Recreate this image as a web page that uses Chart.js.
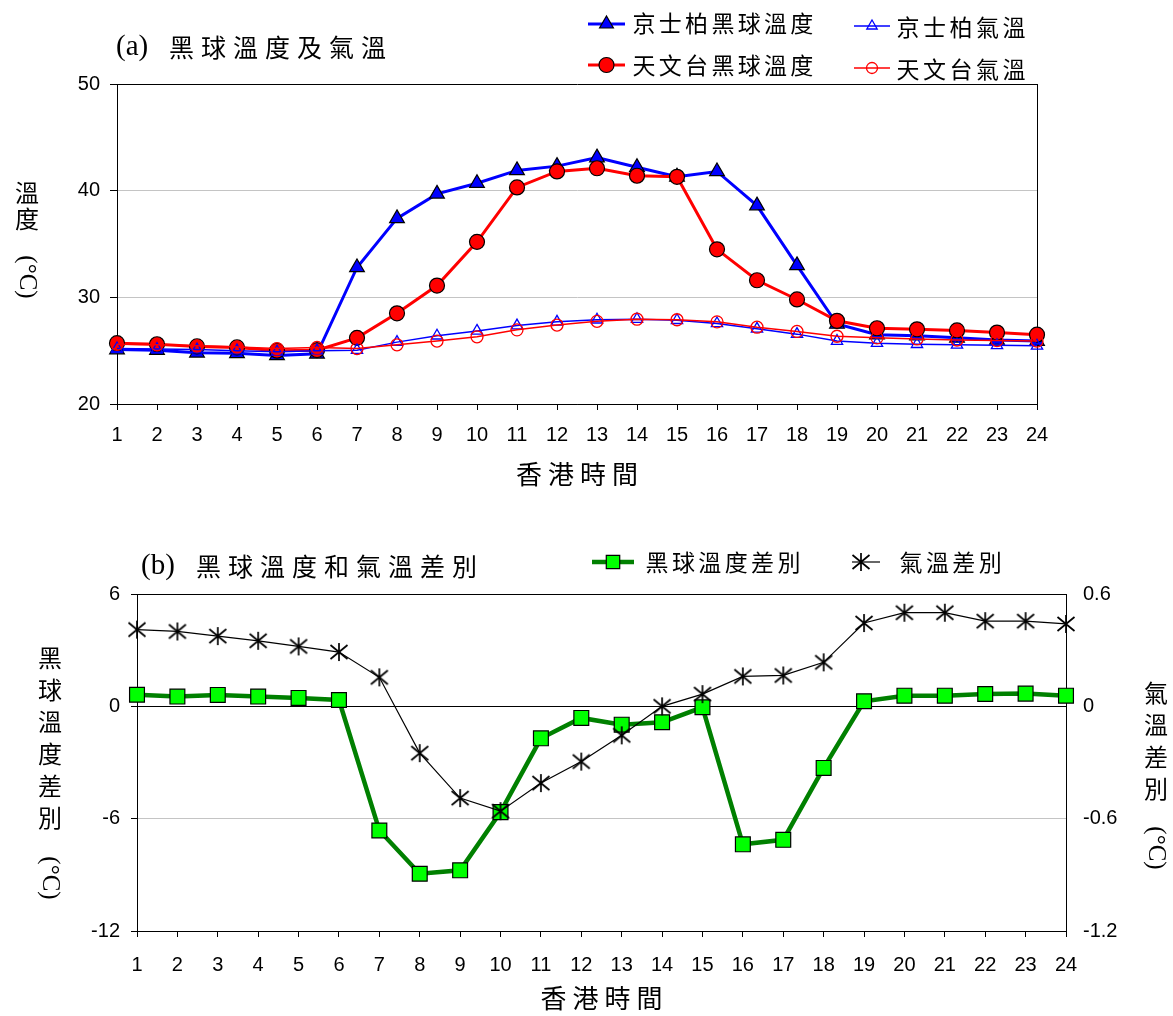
<!DOCTYPE html>
<html lang="zh-Hant">
<head>
<meta charset="utf-8">
<title>黑球溫度及氣溫</title>
<script src="https://cdn.jsdelivr.net/npm/chart.js@4.4.1/dist/chart.umd.min.js"></script>
<style>
  body { margin: 0; background: #fff; }
  canvas { position: absolute; left: 0; }
  #chartA { top: 0; }
  #chartB { top: 500px; }
</style>
</head>
<body>
<canvas id="chartA" width="1173" height="500"></canvas>
<canvas id="chartB" width="1173" height="516"></canvas>
<script>
/* global Chart */

// hourly data
const hours = ['1', '2', '3', '4', '5', '6', '7', '8', '9', '10', '11', '12',
  '13', '14', '15', '16', '17', '18', '19', '20', '21', '22', '23', '24'];

const kpGlobe = [25.1, 25.05, 24.8, 24.75, 24.55, 24.7, 32.8, 37.4, 39.7, 40.7, 41.9, 42.3,
  43.1, 42.2, 41.3, 41.8, 38.6, 33.0, 27.5, 26.5, 26.4, 26.2, 26.0, 25.9];
const obsGlobe = [25.7, 25.6, 25.4, 25.3, 25.0, 25.05, 26.2, 28.5, 31.1, 35.2, 40.3, 41.8,
  42.1, 41.4, 41.3, 34.5, 31.6, 29.8, 27.8, 27.1, 27.0, 26.9, 26.7, 26.5];
const kpAir = [25.2, 25.15, 25.1, 25.0, 24.9, 25.0, 25.05, 25.8, 26.4, 26.85, 27.35, 27.7,
  27.9, 27.95, 27.85, 27.55, 27.05, 26.55, 25.9, 25.7, 25.6, 25.55, 25.5, 25.45];
const obsAir = [25.6, 25.55, 25.45, 25.35, 25.2, 25.3, 25.2, 25.55, 25.9, 26.3, 26.95, 27.4,
  27.75, 27.95, 27.9, 27.7, 27.2, 26.8, 26.35, 26.2, 26.1, 26.0, 25.95, 25.9];

const globeDiff = [0.62, 0.52, 0.61, 0.52, 0.45, 0.34, -6.63, -8.94, -8.76, -5.65, -1.71, -0.62,
  -0.98, -0.85, -0.05, -7.37, -7.13, -3.29, 0.27, 0.57, 0.57, 0.66, 0.68, 0.57];
const airDiff = [0.41, 0.40, 0.375, 0.35, 0.32, 0.29, 0.155, -0.25, -0.49, -0.56, -0.41, -0.295,
  -0.155, 0.0, 0.065, 0.16, 0.165, 0.235, 0.445, 0.5, 0.5, 0.455, 0.455, 0.44];

const tempTicks = [20, 30, 40, 50];
const globeDiffTicks = [-12, -6, 0, 6];
const airDiffTicks = [-1.2, -0.6, 0, 0.6];

const CJK = '"Noto Sans CJK TC", "Noto Sans CJK SC", sans-serif';
const SERIF = '"Liberation Serif", "DejaVu Serif", serif';
const SANS = '"Liberation Sans", Arial, sans-serif';

Chart.defaults.font.family = SANS;
Chart.defaults.font.size = 20;
Chart.defaults.color = '#000';

// six-armed asterisk marker like the original
function makeAsterisk() {
  const c = document.createElement('canvas');
  c.width = 20; c.height = 20;
  const g = c.getContext('2d');
  g.strokeStyle = '#000';
  g.lineWidth = 1.7;
  g.beginPath();
  g.moveTo(10, 1); g.lineTo(10, 19);
  g.moveTo(1.5, 3); g.lineTo(18.5, 17);
  g.moveTo(18.5, 3); g.lineTo(1.5, 17);
  g.stroke();
  return c;
}
const asterisk = makeAsterisk();

function charsAcross(ctx, text, x, y, step) {
  [...text].forEach((ch, i) => ctx.fillText(ch, x + i * step, y));
}
function charsDown(ctx, text, x, y, step) {
  [...text].forEach((ch, i) => ctx.fillText(ch, x, y + i * step));
}
function rotated(ctx, text, x, y) {
  ctx.save();
  ctx.translate(x, y);
  ctx.rotate(Math.PI / 2);
  ctx.fillText(text, 0, 0);
  ctx.restore();
}

// titles, stacked axis titles and the legend
const decor = {
  id: 'decor',
  afterDraw(chart, args, opts) {
    const ctx = chart.ctx;
    const area = chart.chartArea;
    ctx.save();
    ctx.fillStyle = '#000';
    ctx.textBaseline = 'middle';

    // panel title
    const t = opts.title;
    ctx.textAlign = 'left';
    ctx.font = '29px ' + SERIF;
    ctx.fillText(t.prefix, t.px, t.y);
    ctx.textAlign = 'center';
    ctx.font = '25px ' + CJK;
    charsAcross(ctx, t.text, t.cx, t.y, 32);

    // y titles
    opts.yTitles.forEach(yt => {
      ctx.font = '24px ' + CJK;
      charsDown(ctx, yt.text, yt.x, yt.y, yt.step);
      ctx.font = '25px ' + SERIF;
      rotated(ctx, '(°C)', yt.x, yt.unitY);
    });

    // x title, centred on the plot
    ctx.font = '26px ' + CJK;
    const xt = opts.xTitle;
    const mid = (area.left + area.right) / 2;
    charsAcross(ctx, xt.text, mid - 1.5 * 32, xt.y, 32);

    // legend
    opts.legend.forEach(item => {
      const ds = chart.data.datasets[item.ds];
      ctx.strokeStyle = ds.borderColor;
      ctx.lineWidth = ds.borderWidth;
      ctx.beginPath();
      ctx.moveTo(item.x1, item.y);
      ctx.lineTo(item.x2, item.y);
      ctx.stroke();
      ctx.fillStyle = ds.pointBackgroundColor;
      ctx.strokeStyle = ds.pointBorderColor;
      ctx.lineWidth = ds.pointBorderWidth;
      Chart.helpers.drawPoint(ctx, {
        pointStyle: ds.pointStyle,
        radius: item.r,
        borderWidth: ds.pointBorderWidth,
        rotation: 0
      }, item.mx !== undefined ? item.mx : (item.x1 + item.x2) / 2, item.y);
      ctx.fillStyle = '#000';
      ctx.font = '23px ' + CJK;
      charsAcross(ctx, ds.label, item.tx + 11, item.ty, item.step);
    });
    ctx.restore();
  }
};

function fixTicks(list) {
  return scale => { scale.ticks = list.map(value => ({ value })); };
}

// (a) globe temperature and air temperature
new Chart(document.getElementById('chartA'), {
  type: 'line',
  data: {
    labels: hours,
    datasets: [{
      label: '京士柏黑球溫度',
      data: kpGlobe,
      borderColor: '#0000ff',
      borderWidth: 3,
      pointStyle: 'triangle',
      pointRadius: 8.5,
      pointBackgroundColor: '#0000ff',
      pointBorderColor: '#000',
      pointBorderWidth: 1.2,
      order: 4
    }, {
      label: '天文台黑球溫度',
      data: obsGlobe,
      borderColor: '#ff0000',
      borderWidth: 3,
      pointStyle: 'circle',
      pointRadius: 7.5,
      pointBackgroundColor: '#ff0000',
      pointBorderColor: '#000',
      pointBorderWidth: 1.2,
      order: 3
    }, {
      label: '京士柏氣溫',
      data: kpAir,
      borderColor: '#0000ff',
      borderWidth: 1.5,
      pointStyle: 'triangle',
      pointRadius: 6.5,
      pointBackgroundColor: 'rgba(0,0,0,0)',
      pointBorderColor: '#0000ff',
      pointBorderWidth: 1.3,
      order: 2
    }, {
      label: '天文台氣溫',
      data: obsAir,
      borderColor: '#ff0000',
      borderWidth: 1.5,
      pointStyle: 'circle',
      pointRadius: 6,
      pointBackgroundColor: 'rgba(0,0,0,0)',
      pointBorderColor: '#ff0000',
      pointBorderWidth: 1.3,
      order: 1
    }]
  },
  options: {
    responsive: false,
    animation: false,
    events: [],
    clip: false,
    layout: { padding: { left: 57, right: 136, top: 84, bottom: 16 } },
    elements: { line: { tension: 0 } },
    plugins: {
      legend: { display: false },
      tooltip: { enabled: false },
      decor: {
        title: { prefix: '(a)', px: 116, text: '黑球溫度及氣溫', cx: 181.5, y: 47 },
        yTitles: [{ text: '溫度', x: 27, y: 193, step: 26, unitY: 277 }],
        xTitle: { text: '香港時間', y: 474 },
        legend: [
          { ds: 0, x1: 588, x2: 625, y: 24, r: 8, tx: 633, ty: 23, step: 26.3 },
          { ds: 2, x1: 854, x2: 890, y: 26, r: 6, tx: 897, ty: 27, step: 26.5 },
          { ds: 1, x1: 588, x2: 625, y: 65, r: 7.5, tx: 633, ty: 65, step: 26.3 },
          { ds: 3, x1: 854, x2: 890, y: 68, r: 5.5, tx: 897, ty: 69, step: 26.5 }
        ]
      }
    },
    scales: {
      x: {
        offset: false,
        afterFit: s => { s.height = 80; },
        grid: {
          color: c => (c.index === hours.length - 1 ? '#000' : 'rgba(0,0,0,0)'),
          tickColor: '#000',
          tickLength: 6
        },
        border: { color: '#000', width: 1 },
        ticks: { padding: 13, maxRotation: 0, autoSkip: false }
      },
      y: {
        min: 20,
        max: 50,
        afterFit: s => { s.width = 60; },
        afterBuildTicks: fixTicks(tempTicks),
        grid: {
          color: c => (c.tick && (c.tick.value === 20 || c.tick.value === 50) ? '#000' : '#c4c4c4'),
          tickColor: '#000',
          tickLength: 7
        },
        border: { color: '#000', width: 1 },
        ticks: { padding: 10 }
      }
    }
  },
  plugins: [decor]
});

// (b) globe temperature difference and air temperature difference
new Chart(document.getElementById('chartB'), {
  type: 'line',
  data: {
    labels: hours,
    datasets: [{
      label: '黑球溫度差別',
      data: globeDiff,
      yAxisID: 'y',
      borderColor: '#008000',
      borderWidth: 4.5,
      pointStyle: 'rect',
      pointRadius: 10.5,
      pointBackgroundColor: '#00ff00',
      pointBorderColor: '#000',
      pointBorderWidth: 1.2,
      order: 2
    }, {
      label: '氣溫差別',
      data: airDiff,
      yAxisID: 'y2',
      borderColor: '#000',
      borderWidth: 1.2,
      pointStyle: asterisk,
      pointRadius: 9,
      order: 1
    }]
  },
  options: {
    responsive: false,
    animation: false,
    events: [],
    clip: false,
    layout: { padding: { left: 67, right: 37, top: 94, bottom: 15 } },
    elements: { line: { tension: 0 } },
    plugins: {
      legend: { display: false },
      tooltip: { enabled: false },
      decor: {
        title: { prefix: '(b)', px: 141, text: '黑球溫度和氣溫差別', cx: 208.5, y: 66 },
        yTitles: [
          { text: '黑球溫度差別', x: 50, y: 158, step: 32, unitY: 378 },
          { text: '氣溫差別', x: 1156, y: 193, step: 32, unitY: 348 }
        ],
        xTitle: { text: '香港時間', y: 498 },
        legend: [
          { ds: 0, x1: 592, x2: 634, y: 62, r: 9.5, tx: 646, ty: 62, step: 26.4 },
          { ds: 1, x1: 852, x2: 880, mx: 861, y: 62, tx: 900, ty: 62, step: 26.4 }
        ]
      }
    },
    scales: {
      x: {
        offset: false,
        afterFit: s => { s.height = 70; },
        grid: {
          color: c => (c.index === hours.length - 1 ? '#000' : 'rgba(0,0,0,0)'),
          tickColor: '#000',
          tickLength: 6
        },
        border: { color: '#000', width: 1 },
        ticks: { padding: 16, maxRotation: 0, autoSkip: false }
      },
      y: {
        position: 'left',
        min: -12,
        max: 6,
        afterFit: s => { s.width = 70; },
        afterBuildTicks: fixTicks(globeDiffTicks),
        grid: {
          color: c => (c.tick && c.tick.value === -6 ? '#c4c4c4' : '#000'),
          tickColor: '#000',
          tickLength: 6
        },
        border: { color: '#000', width: 1 },
        ticks: { padding: 11, callback: v => String(v) }
      },
      y2: {
        position: 'right',
        min: -1.2,
        max: 0.6,
        afterFit: s => { s.width = 70; },
        afterBuildTicks: fixTicks(airDiffTicks),
        grid: { drawOnChartArea: false, tickColor: 'rgba(0,0,0,0)', tickLength: 8 },
        border: { color: '#000', width: 1 },
        ticks: { padding: 9, callback: v => String(Number(v.toFixed(1))) }
      }
    }
  },
  plugins: [decor]
});
</script>
</body>
</html>
